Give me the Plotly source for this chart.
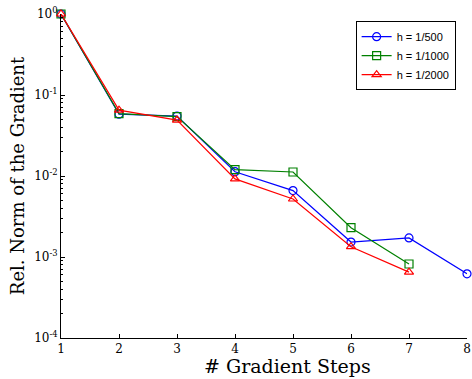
import plotly.graph_objects as go

steps_500 = [1, 2, 3, 4, 5, 6, 7, 8]
norm_500 = [1.0, 0.058, 0.055, 0.0113, 0.0066, 0.00153, 0.00172, 0.00062]
steps_1000 = [1, 2, 3, 4, 5, 6, 7]
norm_1000 = [1.0, 0.059, 0.054, 0.0120, 0.0112, 0.0023, 0.00082]
steps_2000 = [1, 2, 3, 4, 5, 6, 7]
norm_2000 = [1.0, 0.065, 0.049, 0.0092, 0.0052, 0.00134, 0.00065]
x_ticks = [1, 2, 3, 4, 5, 6, 7, 8]
y_ticks = [1e-4, 1e-3, 1e-2, 1e-1, 1e0]
y_ticktext = ["10<sup>-4</sup>", "10<sup>-3</sup>", "10<sup>-2</sup>", "10<sup>-1</sup>", "10<sup>0</sup>"]
y_minor = [m * 10 ** e for e in range(-4, 0) for m in range(2, 10)]

serif = "DejaVu Serif, Liberation Serif, serif"

fig = go.Figure()
series = [
    ("h = 1/500", steps_500, norm_500, "#0000ff", "circle-open"),
    ("h = 1/1000", steps_1000, norm_1000, "#008000", "square-open"),
    ("h = 1/2000", steps_2000, norm_2000, "#ff0000", "triangle-up-open"),
]
for name, xs, ys, col, sym in series:
    fig.add_trace(go.Scatter(
        x=xs, y=ys, name=name, mode="lines+markers",
        line=dict(color=col, width=1.2),
        marker=dict(symbol=sym, size=8, color=col, line=dict(width=1.2, color=col)),
        cliponaxis=False,
    ))

fig.update_layout(
    width=472, height=379,
    margin=dict(l=61, r=1, t=14, b=41),
    paper_bgcolor="white", plot_bgcolor="white",
    showlegend=True,
    legend=dict(
        x=0.972, y=0.978, xanchor="right", yanchor="top",
        bordercolor="black", borderwidth=1, bgcolor="white",
        font=dict(family="Liberation Sans, Arial, sans-serif", size=11, color="black"),
        tracegroupgap=0, itemwidth=30,
    ),
    xaxis=dict(
        range=[1, 8], tickvals=x_ticks, ticktext=[str(v) for v in x_ticks],
        ticks="inside", ticklen=4, tickcolor="black", ticklabeloverflow="allow",
        showline=True, linecolor="black", linewidth=1, showgrid=False, zeroline=False,
        tickfont=dict(family=serif, size=12, color="black"),
    ),
    yaxis=dict(
        type="log", range=[-4, 0], tickvals=y_ticks, ticktext=y_ticktext,
        ticks="inside", ticklen=4, tickcolor="black", ticklabeloverflow="allow",
        showline=True, linecolor="black", linewidth=1, showgrid=False, zeroline=False,
        tickfont=dict(family=serif, size=12, color="black"),
        minor=dict(ticks="inside", ticklen=2, tickcolor="black", showgrid=False, tickvals=y_minor),
        title=dict(text="Rel. Norm of the Gradient", font=dict(family=serif, size=18, color="black"), standoff=4),
    ),
    annotations=[dict(
        text="# Gradient Steps", xref="paper", yref="paper", x=0.5585, y=0,
        xanchor="center", yanchor="top", yshift=-15, showarrow=False,
        font=dict(family=serif, size=19, color="black"),
    )],
)

fig.write_html("out.html")
